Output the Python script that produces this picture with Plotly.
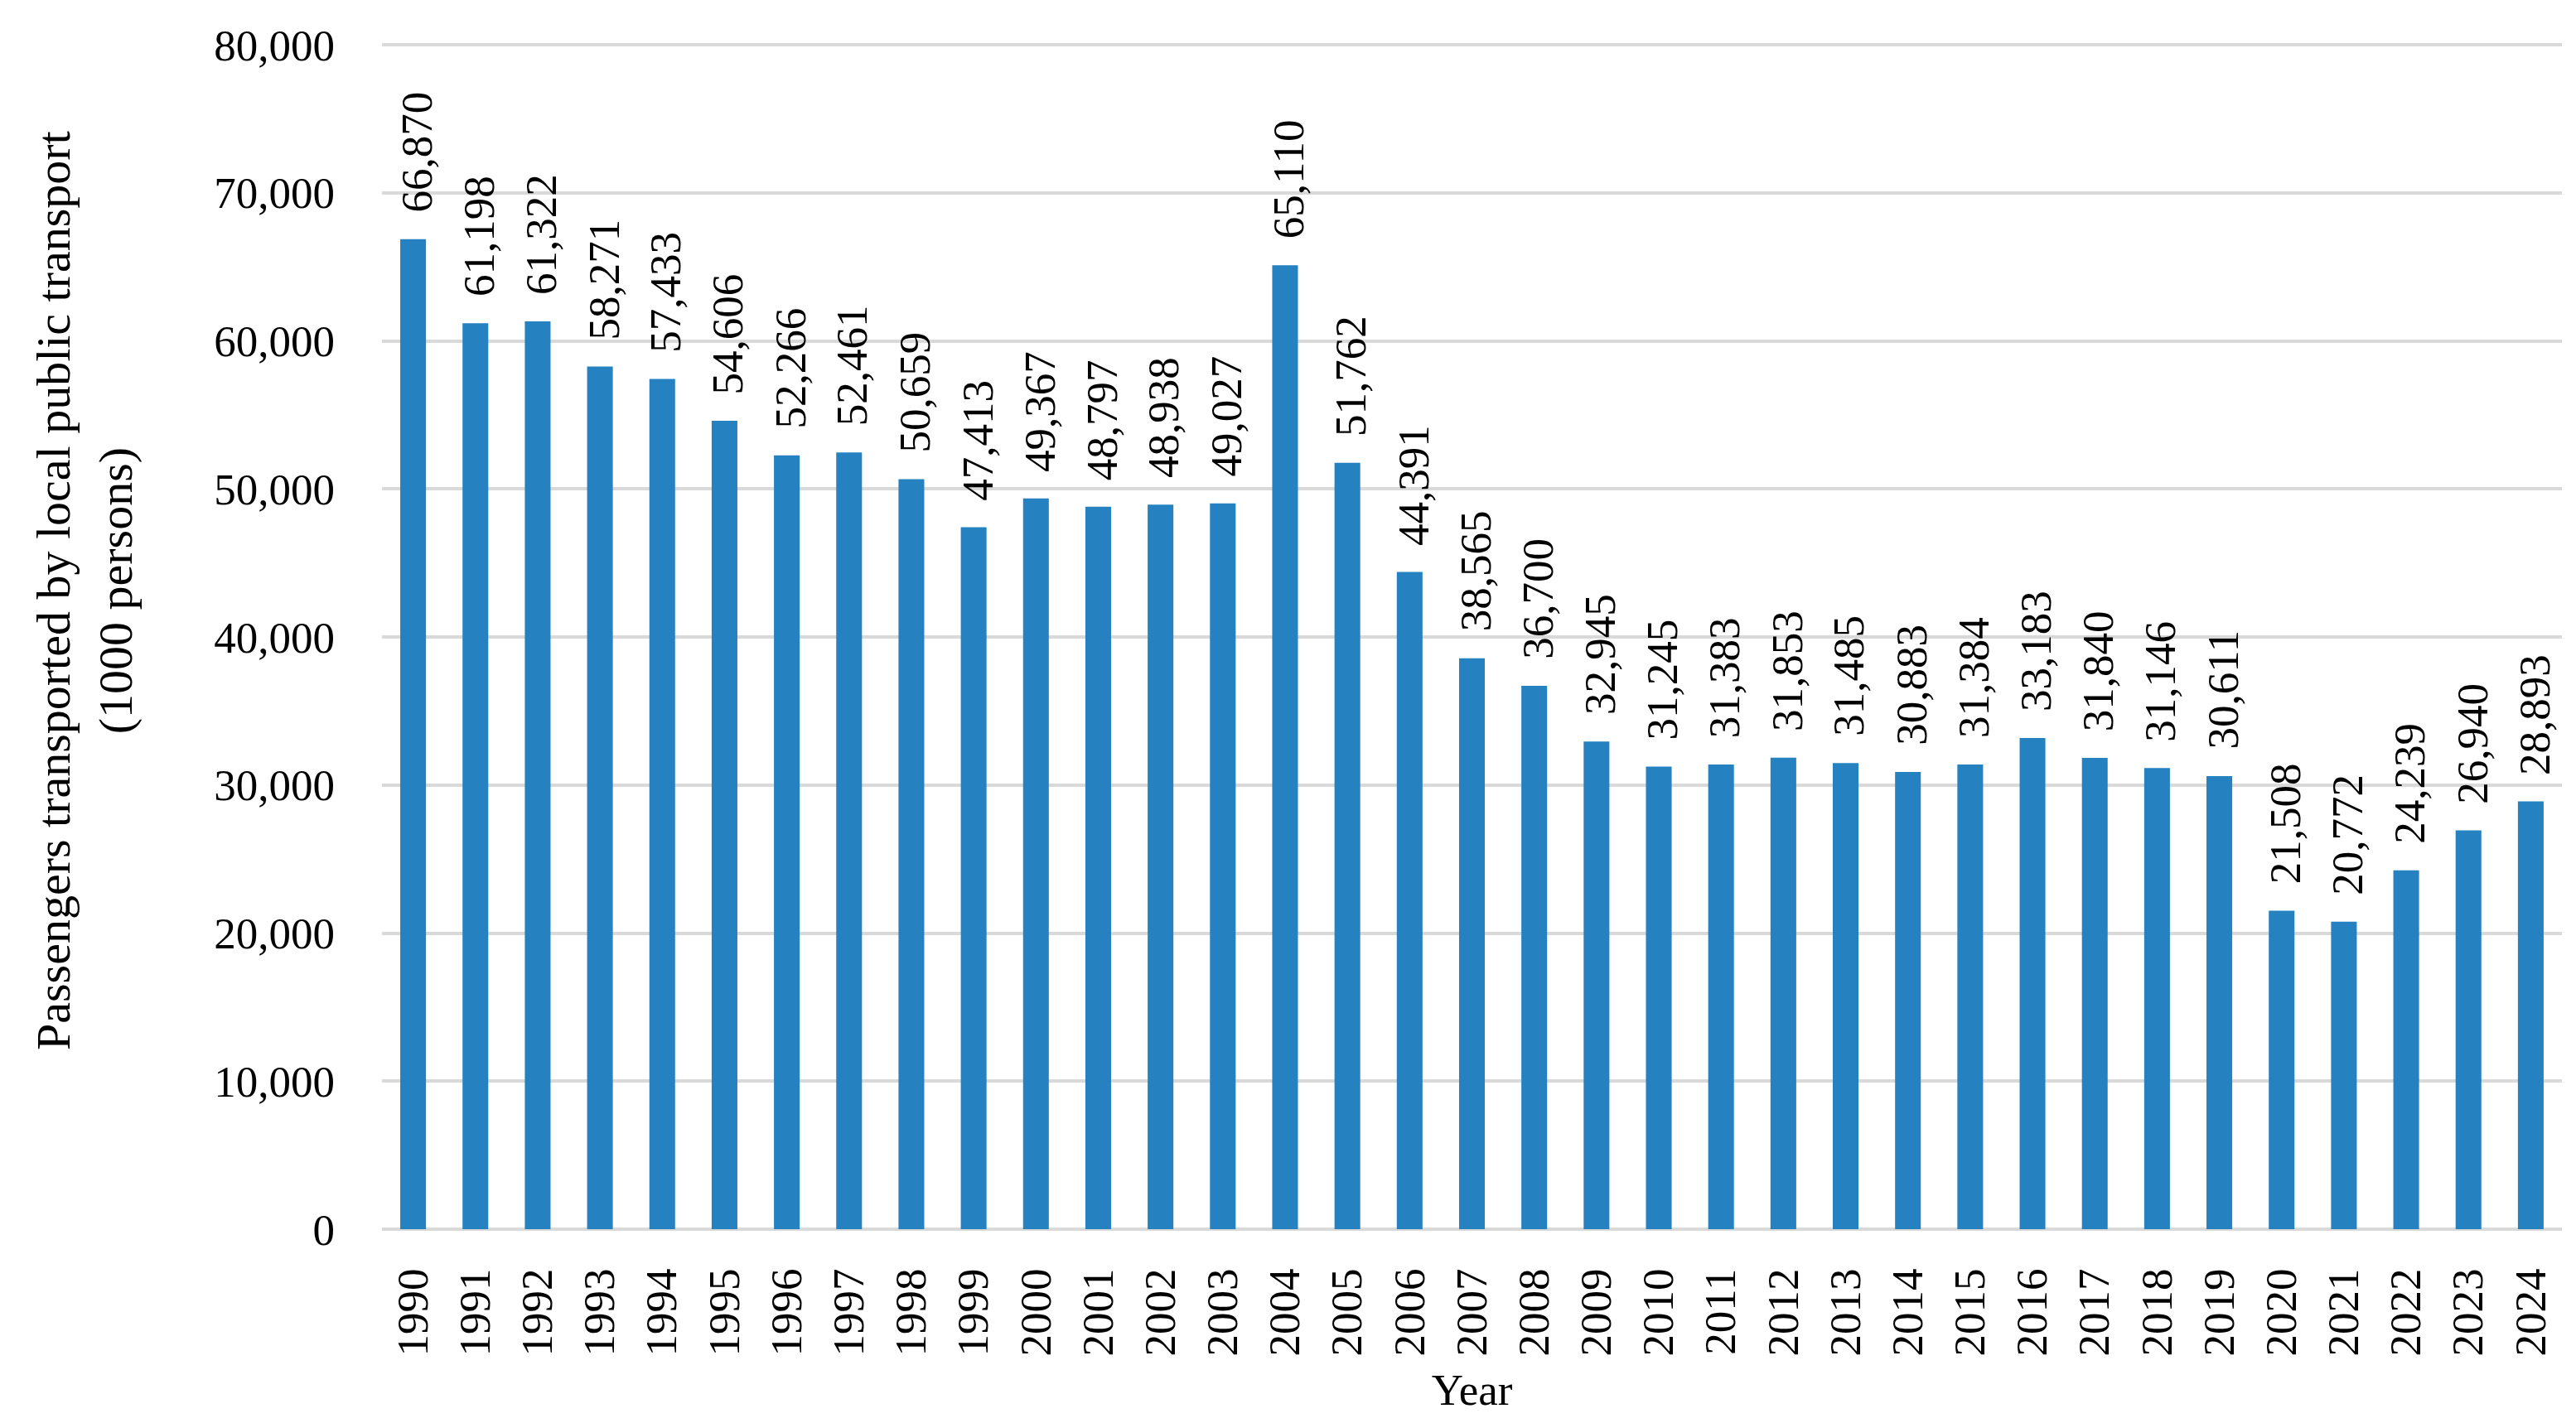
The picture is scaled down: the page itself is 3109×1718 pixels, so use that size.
import plotly.graph_objects as go

years = [str(y) for y in range(1990, 2025)]
passengers = [66870, 61198, 61322, 58271, 57433, 54606, 52266, 52461, 50659, 47413,
              49367, 48797, 48938, 49027, 65110, 51762, 44391, 38565, 36700, 32945,
              31245, 31383, 31853, 31485, 30883, 31384, 33183, 31840, 31146, 30611,
              21508, 20772, 24239, 26940, 28893]
y_ticks = [0, 10000, 20000, 30000, 40000, 50000, 60000, 70000, 80000]
y_ticklabels = [f"{v:,}" for v in y_ticks]
y_title = "Passengers transported by local public transport<br>(1000 persons)"
x_title = "Year"

FONT = "Liberation Serif"
FS = 53
W, H = 3109, 1718
ML, MR, MT, MB = 453, 25, 39, 242

fig = go.Figure()
fig.add_trace(go.Bar(
    x=years, y=passengers,
    marker=dict(color="#2681C0", line=dict(width=0)),
    cliponaxis=False,
    hoverinfo="x+y",
))

# value labels, placed at each category index on the category axis
for i, v in enumerate(passengers):
    fig.add_annotation(
        x=i, y=v, xref="x", yref="y",
        text=f"{v:,}", textangle=-90, showarrow=False,
        xanchor="center", yanchor="bottom", yshift=30, xshift=4,
        font=dict(family=FONT, size=FS, color="black"),
    )

# y-axis title (two lines, rotated)
plot_w = W - ML - MR
plot_h = H - MT - MB
fig.add_annotation(
    x=(94 - ML) / plot_w, y=(H - MB - 705) / plot_h, xref="paper", yref="paper",
    text=y_title, textangle=-90, showarrow=False,
    xanchor="center", yanchor="middle",
    font=dict(family=FONT, size=58, color="black"),
)

fig.update_layout(
    width=W, height=H,
    paper_bgcolor="white", plot_bgcolor="white",
    margin=dict(l=ML, r=MR, t=MT, b=MB),
    bargap=0.587,
    showlegend=False,
    font=dict(family=FONT, size=FS, color="black"),
)
fig.update_xaxes(
    type="category", categoryorder="array", categoryarray=years,
    range=[-0.5, len(years) - 0.5],
    tickangle=-90,
    tickfont=dict(family=FONT, size=FS, color="black"),
    showgrid=False, showline=False, ticks="",
    ticklabelstandoff=36,
    title=dict(text=x_title, font=dict(family=FONT, size=FS, color="black"), standoff=22),
)
fig.update_yaxes(
    range=[0, 80400], tickvals=y_ticks, ticktext=y_ticklabels,
    tickfont=dict(family=FONT, size=FS, color="black"),
    showgrid=True, gridcolor="#D9D9D9", gridwidth=4,
    zeroline=True, zerolinecolor="#D9D9D9", zerolinewidth=4,
    showline=False, ticks="",
    ticklabelstandoff=56,
)

fig.write_html("out.html")
